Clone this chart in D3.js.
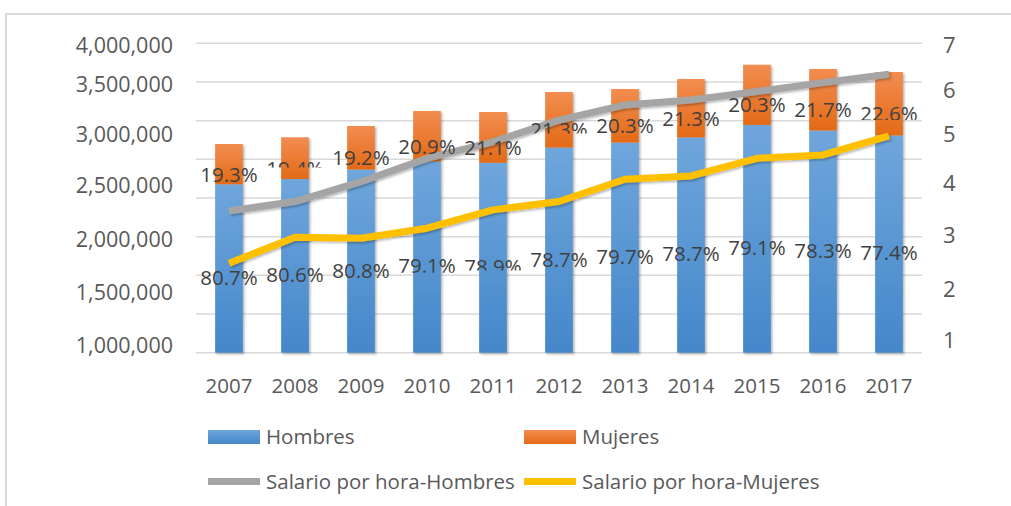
<!DOCTYPE html>
<html>
<head>
<meta charset="utf-8">
<script src="https://cdn.jsdelivr.net/npm/d3@7"></script>
<style>
  body { margin: 0; background: #fff; }
  svg { display: block; }
</style>
</head>
<body>
<svg id="chart" width="1011" height="506"></svg>
<script>
// data
const years = ["2007", "2008", "2009", "2010", "2011", "2012", "2013", "2014", "2015", "2016", "2017"];
const hombres = [2177000, 2245000, 2368000, 2472000, 2455000, 2652000, 2717000, 2784000, 2945000, 2872000, 2809000];
const mujeres = [521000, 540000, 563000, 653000, 657000, 718000, 692000, 754000, 778000, 796000, 820000];
const pctHombres = ["80.7%", "80.6%", "80.8%", "79.1%", "78.9%", "78.7%", "79.7%", "78.7%", "79.1%", "78.3%", "77.4%"];
const pctMujeres = ["19.3%", "19.4%", "19.2%", "20.9%", "21.1%", "21.3%", "20.3%", "21.3%", "20.3%", "21.7%", "22.6%"];
const salarioHombres = [3.46, 3.64, 4.02, 4.50, 4.84, 5.31, 5.65, 5.76, 5.95, 6.15, 6.34];
const salarioMujeres = [2.47, 2.96, 2.94, 3.13, 3.48, 3.64, 4.07, 4.14, 4.50, 4.57, 4.96];
const leftTicks = [1000000, 1500000, 2000000, 2500000, 3000000, 3500000, 4000000];
const rightTicks = [1, 2, 3, 4, 5, 6, 7];
const legendNames = ["Hombres", "Mujeres", "Salario por hora-Hombres", "Salario por hora-Mujeres"];

const FONT = "'Open Sans', sans-serif";
const TEXT = "#595959";

const svg = d3.select("#chart");

// gradients + shadow (excel look)
const defs = svg.append("defs");
function grad(id, top, bottom) {
  const g = defs.append("linearGradient").attr("id", id).attr("x1", 0).attr("y1", 0).attr("x2", 0).attr("y2", 1);
  g.append("stop").attr("offset", "0%").attr("stop-color", top);
  g.append("stop").attr("offset", "100%").attr("stop-color", bottom);
}
grad("gBlue", "#6fa6dc", "#4487ca");
grad("gOrange", "#f28d50", "#e36a17");
const f = defs.append("filter").attr("id", "shadow").attr("x", "-30%").attr("y", "-10%").attr("width", "160%").attr("height", "130%");
f.append("feDropShadow").attr("dx", 1.5).attr("dy", 1.5).attr("stdDeviation", 1.3)
  .attr("flood-color", "#000").attr("flood-opacity", 0.3);

// frame
svg.append("path")
  .attr("d", "M6,506V14H1011")
  .attr("fill", "none").attr("stroke", "#d9d9d9").attr("stroke-width", 2);

// scales
const x = d3.scaleBand().domain(years).range([196, 922]).paddingInner(0.58).paddingOuter(0.29);
const cx = d => x(d) + x.bandwidth() / 2;
const yBar = d3.scaleLinear().domain([0, 4000000]).range([352.7, 43.3]);
// the printed axis labels are not evenly spaced in the picture
const yLeftLab = d3.scaleLinear().domain(leftTicks).range([345, 291.7, 238.3, 185, 133.3, 83.3, 45]);
const yRight = d3.scaleLinear().domain(rightTicks).range([340, 288.3, 235, 182.7, 134, 89.3, 45]);

// gridlines
svg.append("g")
  .selectAll("line")
  .data(yBar.ticks(8))
  .join("line")
    .attr("x1", 196).attr("x2", 922)
    .attr("y1", d => yBar(d)).attr("y2", d => yBar(d))
    .attr("stroke", "#d9d9d9").attr("stroke-width", 1.5);

// axes (labels only)
function styleAxis(g, size) {
  g.select(".domain").remove();
  g.selectAll("text").attr("font-family", FONT).attr("font-size", size).attr("fill", TEXT);
}
svg.append("g")
  .attr("transform", "translate(173,0)")
  .call(d3.axisLeft(yLeftLab).tickValues(leftTicks).tickSize(0).tickPadding(0).tickFormat(d3.format(",")))
  .call(g => styleAxis(g, 21.5))
  .selectAll("text").attr("dy", "0.36em");

svg.append("g")
  .attr("transform", "translate(943,0)")
  .call(d3.axisRight(yRight).tickValues(rightTicks).tickSize(0).tickPadding(0).tickFormat(d3.format("d")))
  .call(g => styleAxis(g, 22))
  .selectAll("text").attr("dy", "0.36em");

svg.append("g")
  .attr("transform", "translate(0,378)")
  .call(d3.axisBottom(x).tickSize(0).tickPadding(0))
  .call(g => styleAxis(g, 20.5));

// stacked bars
const rows = years.map((yr, i) => ({ yr, h: hombres[i], m: mujeres[i], ph: pctHombres[i], pm: pctMujeres[i] }));
const bars = svg.append("g").attr("filter", "url(#shadow)");
bars.selectAll("rect.h")
  .data(rows)
  .join("rect")
    .attr("class", "h")
    .attr("x", d => x(d.yr)).attr("width", x.bandwidth())
    .attr("y", d => yBar(d.h)).attr("height", d => yBar(0) - yBar(d.h))
    .attr("fill", "url(#gBlue)");
bars.selectAll("rect.m")
  .data(rows)
  .join("rect")
    .attr("class", "m")
    .attr("x", d => x(d.yr)).attr("width", x.bandwidth())
    .attr("y", d => yBar(d.h + d.m)).attr("height", d => yBar(d.h) - yBar(d.h + d.m))
    .attr("fill", "url(#gOrange)");

// salary lines
const line = d3.line().x((d, i) => cx(years[i])).y(d => yRight(d));
const lines = svg.append("g").attr("fill", "none").attr("stroke-width", 7)
  .attr("stroke-linejoin", "round").attr("filter", "url(#shadow)");
lines.append("path").attr("d", line(salarioHombres)).attr("stroke", "#a5a5a5");
lines.append("path").attr("d", line(salarioMujeres)).attr("stroke", "#ffc000");

// data labels (some are partly cut off in the source picture)
const cut = { m: { "2008": 0.46, "2012": 0.75, "2017": 0.92 }, h: { "2010": 0.95, "2011": 0.75 } };
const CAP = 14.8;
const labels = svg.append("g")
  .attr("font-family", FONT).attr("font-size", 20.5).attr("fill", "#404040").attr("text-anchor", "middle");
function addLabel(d, kind, text, c) {
  const t = labels.append("text").attr("x", cx(d.yr)).attr("y", c + CAP / 2).text(text);
  const frac = cut[kind][d.yr];
  if (frac) {
    const id = "clip-" + kind + d.yr;
    defs.append("clipPath").attr("id", id)
      .append("rect").attr("x", 0).attr("y", 0).attr("width", 1011).attr("height", c - CAP / 2 + frac * CAP);
    t.attr("clip-path", "url(#" + id + ")");
  }
}
rows.forEach(d => {
  addLabel(d, "h", d.ph, (yBar(0) + yBar(d.h)) / 2 + 9);
  addLabel(d, "m", d.pm, (yBar(d.h) + yBar(d.h + d.m)) / 2 + 10);
});

// legend
const legend = svg.append("g").attr("font-family", FONT).attr("font-size", 20.5).attr("fill", TEXT);
const cols = [208, 524], rowsY = [437, 481.5];
legendNames.forEach((name, i) => {
  const lx = cols[i % 2], ly = rowsY[Math.floor(i / 2)];
  if (i < 2) {
    legend.append("rect").attr("x", lx).attr("y", ly - 7).attr("width", 52).attr("height", 14)
      .attr("fill", i === 0 ? "url(#gBlue)" : "url(#gOrange)");
  } else {
    legend.append("line").attr("x1", lx).attr("x2", lx + 52).attr("y1", ly).attr("y2", ly)
      .attr("stroke", i === 2 ? "#a5a5a5" : "#ffc000").attr("stroke-width", 7);
  }
  legend.append("text").attr("x", lx + 58).attr("y", ly + CAP / 2).text(name);
});
</script>
</body>
</html>
